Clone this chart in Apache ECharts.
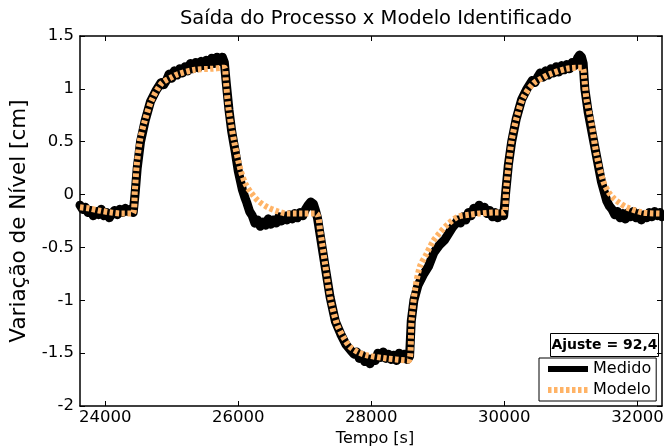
<!DOCTYPE html>
<html>
<head>
<meta charset="utf-8">
<script src="https://cdn.jsdelivr.net/npm/echarts@6/dist/echarts.min.js"></script>
<style>html,body{margin:0;padding:0;background:#fff}#c{width:664px;height:448px}</style>
</head>
<body>
<div id="c"></div>
<script>
// ---- data ----
var tituloGrafico = 'Saída do Processo x Modelo Identificado';
var xTicks = [24000, 26000, 28000, 30000, 32000];
var serieNomes = ['Medido', 'Modelo'];
var ajusteTexto = 'Ajuste = 92,4';

var tempoMedido = [
  23620,23660,23700,23740,23780,23820,23860,23900,23940,23980,24020,24060,24100,24140,24180,24220,24260,24300,24340,24380,24420,
  24450,24480,24530,24600,24680,24760,24840,24880,
  24920,24960,25000,25040,25080,25120,25160,25200,25240,25280,25320,25360,25400,25440,25480,25520,25560,25600,25640,25680,25720,25760,25790,
  25820,25860,25900,25950,26000,26060,26100,
  26130,26170,26210,26250,26290,26330,26370,26410,26450,26490,26530,26570,26610,26650,26690,26730,26770,26810,26850,26890,26930,26970,27010,27050,27090,27130,27160,27190,
  27230,27300,27380,27460,27540,27620,27660,
  27700,27740,27780,27820,27860,27900,27940,27980,28020,28060,28100,28140,28180,28220,28260,28300,28340,28380,28420,28460,28500,28540,28575,
  28600,28640,28700,28780,28860,28940,29020,29100,29180,29220,
  29260,29300,29340,29380,29420,29460,29500,29540,29580,29620,29660,29700,29740,29780,29820,29860,29900,29940,29990,
  30020,30060,30110,30180,30260,30340,30420,30460,
  30500,30540,30580,30620,30660,30700,30740,30780,30820,30860,30900,30940,30980,31020,31060,31100,31130,31160,31185,
  31210,31260,31320,31390,31460,31540,31580,
  31620,31660,31700,31740,31780,31820,31860,31900,31940,31980,32020,32060,32100,32140,32180,32220,32260,32300,32340,32370
];
var medido = [
  -0.10,-0.14,-0.12,-0.17,-0.15,-0.20,-0.16,-0.19,-0.14,-0.20,-0.17,-0.22,-0.18,-0.15,-0.19,-0.14,-0.17,-0.13,-0.16,-0.14,-0.17,
  0.02,0.25,0.50,0.70,0.88,0.98,1.06,1.04,
  1.08,1.14,1.10,1.17,1.13,1.19,1.15,1.21,1.17,1.24,1.19,1.25,1.20,1.26,1.22,1.27,1.23,1.29,1.24,1.30,1.26,1.30,1.25,
  1.05,0.80,0.60,0.42,0.22,0.05,-0.03,
  -0.08,-0.16,-0.20,-0.27,-0.24,-0.30,-0.26,-0.29,-0.23,-0.28,-0.24,-0.27,-0.21,-0.25,-0.20,-0.24,-0.19,-0.23,-0.18,-0.22,-0.17,-0.20,-0.14,-0.10,-0.07,-0.09,-0.15,-0.22,
  -0.38,-0.66,-0.97,-1.20,-1.32,-1.42,-1.45,
  -1.48,-1.51,-1.49,-1.55,-1.52,-1.58,-1.55,-1.60,-1.55,-1.57,-1.50,-1.54,-1.49,-1.55,-1.51,-1.56,-1.52,-1.57,-1.50,-1.55,-1.51,-1.56,-1.53,
  -1.20,-1.00,-0.86,-0.76,-0.68,-0.55,-0.48,-0.43,-0.35,-0.31,
  -0.28,-0.24,-0.27,-0.21,-0.24,-0.17,-0.20,-0.13,-0.16,-0.10,-0.15,-0.12,-0.18,-0.15,-0.21,-0.17,-0.22,-0.18,-0.20,
  0.02,0.28,0.50,0.72,0.90,1.00,1.08,1.06,
  1.11,1.15,1.11,1.17,1.13,1.19,1.15,1.21,1.16,1.22,1.18,1.23,1.19,1.25,1.22,1.29,1.32,1.30,1.24,
  1.00,0.78,0.58,0.35,0.12,-0.06,-0.11,
  -0.14,-0.19,-0.16,-0.22,-0.18,-0.23,-0.17,-0.21,-0.16,-0.22,-0.18,-0.24,-0.19,-0.22,-0.17,-0.21,-0.16,-0.20,-0.17,-0.21
];

var tempoModelo = [23620,23745,23900,24090,24250,24410,24445,24470,24520,24595,24695,24845,25000,25095,25345,25600,25790,25810,25850,25935,26035,26110,26190,26300,26440,26600,26730,26950,27170,27230,27305,27380,27480,27580,27680,27800,27930,28230,28560,28605,28655,28730,28830,28930,29030,29150,29300,29480,29630,29850,30000,30025,30065,30110,30185,30285,30435,30560,30685,30935,31170,31200,31235,31310,31385,31485,31560,31635,31735,31835,32085,32370];
var modelo = [-0.12,-0.13,-0.15,-0.17,-0.18,-0.18,0.04,0.26,0.51,0.70,0.89,1.05,1.11,1.14,1.18,1.19,1.20,1.10,0.83,0.51,0.23,0.10,0.02,-0.06,-0.12,-0.16,-0.18,-0.18,-0.18,-0.34,-0.66,-0.97,-1.22,-1.35,-1.44,-1.49,-1.52,-1.55,-1.57,-1.19,-0.91,-0.68,-0.56,-0.44,-0.36,-0.28,-0.21,-0.19,-0.18,-0.17,-0.17,0.04,0.29,0.51,0.73,0.92,1.05,1.10,1.14,1.19,1.20,1.10,0.90,0.67,0.38,0.13,0.03,-0.03,-0.08,-0.12,-0.17,-0.18];

function pares(t, v) { return t.map(function (x, i) { return [x, v[i]]; }); }

var FONT = 'DejaVu Sans';
var COR_MODELO = '#ffb366';
var DASH = [3.5, 2.5];
var chart = echarts.init(document.getElementById('c'), null, { renderer: 'canvas' });
var axisLine = { show: true, onZero: false, lineStyle: { color: '#000', width: 1.5 } };
var tickIn = { show: true, inside: true, length: 5, lineStyle: { color: '#000', width: 1 } };

chart.setOption({
  animation: false,
  backgroundColor: '#fff',
  title: {
    text: tituloGrafico, left: 371, top: 4, textAlign: 'center',
    textStyle: { fontFamily: FONT, fontSize: 19.5, fontWeight: 'normal', color: '#000' }
  },
  grid: { left: 80, right: 2, top: 36, bottom: 42, outerBoundsMode: 'none', containLabel: false },
  xAxis: [{
    type: 'value', min: 23620, max: 32370, position: 'bottom',
    axisLine: axisLine,
    axisTick: Object.assign({}, tickIn, { customValues: xTicks }),
    axisLabel: { customValues: xTicks, margin: 3, color: '#000', fontFamily: FONT, fontSize: 16.5,
      formatter: function (v) { return String(v); } },
    splitLine: { show: false },
    name: 'Tempo [s]', nameLocation: 'middle', nameGap: 22,
    nameTextStyle: { fontFamily: FONT, fontSize: 16, color: '#000', padding: [0, 0, 0, 8] }
  }, {
    type: 'value', min: 23620, max: 32370, position: 'top',
    axisLine: axisLine,
    axisTick: Object.assign({}, tickIn, { customValues: xTicks }),
    axisLabel: { show: false }, splitLine: { show: false }
  }],
  yAxis: [{
    type: 'value', min: -2, max: 1.5, interval: 0.5, position: 'left',
    axisLine: axisLine, axisTick: tickIn,
    axisLabel: { margin: 6, color: '#000', fontFamily: FONT, fontSize: 16.5,
      formatter: function (v) { return String(v); } },
    splitLine: { show: false },
    name: 'Variação de Nível [cm]', nameLocation: 'middle', nameGap: 47,
    nameTextStyle: { fontFamily: FONT, fontSize: 21.5, color: '#000' }
  }, {
    type: 'value', min: -2, max: 1.5, interval: 0.5, position: 'right',
    axisLine: axisLine, axisTick: tickIn,
    axisLabel: { show: false }, splitLine: { show: false }
  }],
  legend: {
    data: [
      { name: serieNomes[0], itemStyle: { opacity: 0 }, lineStyle: { width: 6, color: '#000', cap: 'butt', type: 'solid' } },
      { name: serieNomes[1], itemStyle: { opacity: 0 }, lineStyle: { width: 6, color: COR_MODELO, type: DASH, cap: 'butt' } }
    ],
    orient: 'vertical', left: 539, top: 358,
    itemWidth: 40, itemHeight: 14, itemGap: 5,
    padding: [3, 5, 3, 6],
    borderColor: '#000', borderWidth: 1, backgroundColor: '#fff',
    textStyle: { fontFamily: FONT, fontSize: 16, color: '#000' }
  },
  graphic: [{
    type: 'group', left: 550, top: 333,
    children: [{
      type: 'rect', shape: { x: 0, y: 0, width: 108, height: 23 },
      style: { fill: '#fff', stroke: '#000', lineWidth: 1 }
    }, {
      type: 'text', x: 54, y: 12,
      style: { text: ajusteTexto, fill: '#000', font: 'bold 14px "DejaVu Sans"', align: 'center', verticalAlign: 'middle' }
    }]
  }],
  series: [{
    name: serieNomes[0], type: 'line', data: pares(tempoMedido, medido),
    symbol: 'none', smooth: false, z: 2,
    itemStyle: { color: '#000' },
    lineStyle: { color: '#000', width: 9, cap: 'round', join: 'round' }
  }, {
    name: serieNomes[1], type: 'line', data: pares(tempoModelo, modelo),
    symbol: 'none', smooth: 0.3, z: 3,
    itemStyle: { color: COR_MODELO },
    lineStyle: { color: COR_MODELO, width: 6, type: DASH, cap: 'butt' }
  }]
});
</script>
</body>
</html>
